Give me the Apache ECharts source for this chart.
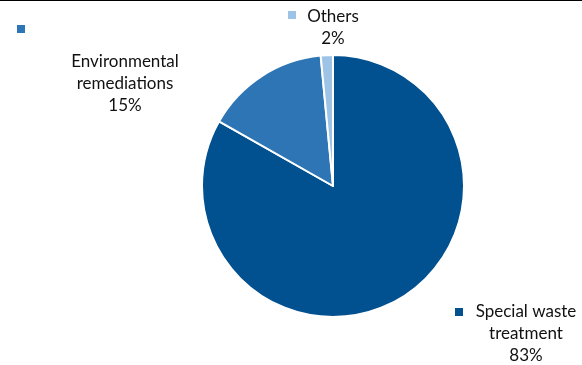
<!DOCTYPE html>
<html>
<head>
<meta charset="utf-8">
<script src="https://cdn.jsdelivr.net/npm/echarts@6/dist/echarts.min.js"></script>
<style>html,body{margin:0;padding:0;background:#fff}#c{width:582px;height:365px}</style>
</head>
<body>
<div id="c"></div>
<script>
var categories = ['Special waste\ntreatment', 'Environmental\nremediations', 'Others'];
var values = [83.2, 15.3, 1.5];
var colors = ['#01508f', '#2e75b6', '#9dc3e6'];

var labelPos = [
  {x: 526, y: 334},
  {x: 125, y: 84},
  {x: 333, y: 28}
];

var chart = echarts.init(document.getElementById('c'), null, {renderer: 'canvas'});
chart.setOption({
  animation: false,
  color: colors,
  graphic: [
    {type: 'rect', shape: {x: 0, y: 0, width: 582, height: 1}, style: {fill: '#000'}},
    {type: 'rect', shape: {x: 455, y: 308, width: 8, height: 8}, style: {fill: colors[0]}},
    {type: 'rect', shape: {x: 17, y: 25, width: 8, height: 8}, style: {fill: colors[1]}},
    {type: 'rect', shape: {x: 288, y: 11, width: 8, height: 8}, style: {fill: colors[2]}}
  ],
  series: [{
    type: 'pie',
    center: [333, 186],
    radius: 131,
    startAngle: 90,
    clockwise: true,
    itemStyle: {borderColor: '#fff', borderWidth: 2},
    label: {
      show: true,
      position: 'outside',
      fontFamily: 'Lato',
      fontSize: 17,
      color: '#111',
      lineHeight: 22,
      align: 'center',
      formatter: function (p) { return p.name + '\n' + Math.round(p.value) + '%'; }
    },
    labelLine: {show: false},
    labelLayout: function (params) {
      var lp = labelPos[params.dataIndex];
      return {x: lp.x, y: lp.y, align: 'center', verticalAlign: 'middle'};
    },
    emphasis: {disabled: true},
    data: categories.map(function (c, i) { return {name: c, value: values[i]}; })
  }]
});
</script>
</body>
</html>
